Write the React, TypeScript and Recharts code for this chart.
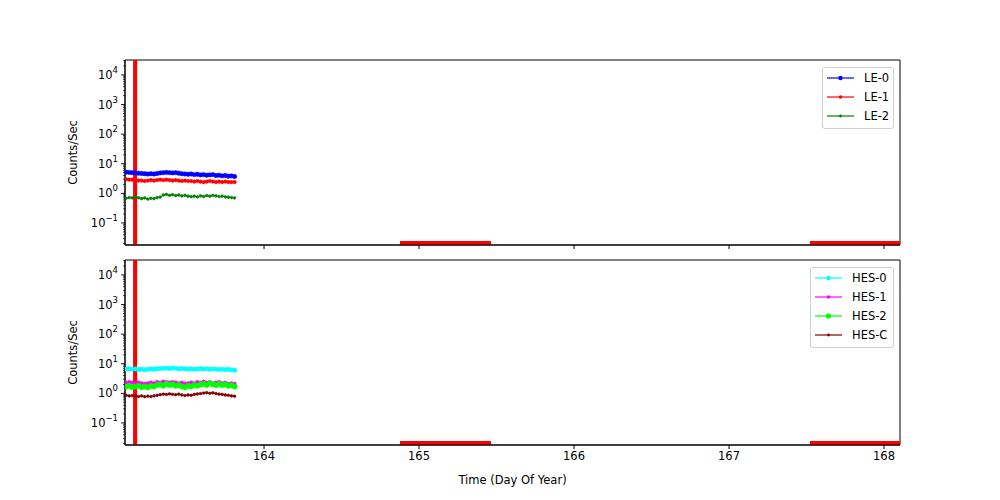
import {
  LineChart,
  Line,
  XAxis,
  YAxis,
  ReferenceLine,
  ReferenceArea,
} from "recharts";

const times = [
  163.11, 163.13, 163.15, 163.17, 163.19, 163.21, 163.23, 163.25, 163.27,
  163.29, 163.31, 163.33, 163.35, 163.37, 163.39, 163.41, 163.43, 163.45,
  163.47, 163.49, 163.51, 163.53, 163.55, 163.57, 163.59, 163.61, 163.63,
  163.65, 163.67, 163.69, 163.71, 163.73, 163.75, 163.77, 163.79, 163.81,
];

const le0 = [5.2, 5.1, 5.0, 4.9, 4.8, 4.7, 4.6, 4.5, 4.6, 4.5, 4.7, 4.9, 5.0, 5.1, 5.0, 4.9, 5.0, 4.8, 4.6, 4.5, 4.4, 4.5, 4.3, 4.4, 4.2, 4.3, 4.1, 4.2, 4.3, 4.0, 4.1, 3.9, 4.0, 3.8, 3.9, 3.7];
const le1 = [3.0, 2.9, 2.9, 2.8, 2.7, 2.7, 2.6, 2.7, 2.8, 2.7, 2.8, 2.9, 2.8, 2.9, 2.8, 2.7, 2.8, 2.7, 2.6, 2.7, 2.6, 2.6, 2.5, 2.6, 2.5, 2.4, 2.5, 2.6, 2.5, 2.4, 2.5, 2.4, 2.5, 2.4, 2.4, 2.4];
const le2 = [0.68, 0.72, 0.7, 0.74, 0.71, 0.66, 0.7, 0.64, 0.68, 0.66, 0.72, 0.75, 0.88, 0.92, 0.86, 0.9, 0.84, 0.88, 0.82, 0.86, 0.8, 0.77, 0.8, 0.76, 0.82, 0.78, 0.84, 0.8, 0.86, 0.82, 0.78, 0.8, 0.76, 0.74, 0.72, 0.7];

const hes0 = [6.6, 6.8, 6.5, 6.7, 6.4, 6.6, 6.3, 6.5, 6.7, 6.5, 6.8, 6.9, 7.0, 7.1, 6.9, 7.2, 7.0, 6.8, 6.9, 6.7, 6.6, 6.8, 6.5, 6.7, 6.9, 6.6, 6.8, 6.5, 6.7, 6.6, 6.4, 6.6, 6.3, 6.5, 6.2, 6.0];
const hes1 = [2.3, 2.4, 2.3, 2.2, 2.3, 2.2, 2.1, 2.2, 2.3, 2.2, 2.4, 2.3, 2.5, 2.4, 2.3, 2.4, 2.3, 2.2, 2.3, 2.1, 2.2, 2.3, 2.2, 2.4, 2.3, 2.5, 2.3, 2.4, 2.2, 2.3, 2.4, 2.2, 2.3, 2.1, 2.2, 2.1];
const hes2 = [1.7, 1.8, 1.6, 1.7, 1.8, 1.6, 1.7, 1.6, 1.8, 1.7, 1.9, 2.0, 1.8, 2.1, 1.9, 2.0, 1.8, 1.9, 1.7, 1.6, 1.8, 1.7, 1.9, 1.8, 2.0, 2.1, 1.9, 2.2, 2.0, 1.9, 2.1, 1.9, 2.0, 1.8, 1.9, 1.7];
const hesC = [0.86, 0.82, 0.84, 0.8, 0.78, 0.82, 0.77, 0.8, 0.78, 0.82, 0.86, 0.9, 0.94, 0.92, 0.96, 0.93, 0.9, 0.94, 0.88, 0.84, 0.88, 0.86, 0.92, 0.95, 0.98, 1.02, 1.05, 1.0, 1.04, 0.98, 0.94, 0.92, 0.88, 0.86, 0.82, 0.8];

const xTicks = [164, 165, 166, 167, 168];
const xDomain = [163.103, 168.103];
const yDomain = [0.018, 32000];
const majorY = [0.1, 1, 10, 100, 1000, 10000];
const minorY = [
  0.02, 0.03, 0.04, 0.05, 0.06, 0.07, 0.08, 0.09,
  0.2, 0.3, 0.4, 0.5, 0.6, 0.7, 0.8, 0.9,
  2, 3, 4, 5, 6, 7, 8, 9,
  20, 30, 40, 50, 60, 70, 80, 90,
  200, 300, 400, 500, 600, 700, 800, 900,
  2000, 3000, 4000, 5000, 6000, 7000, 8000, 9000,
  20000, 30000,
];
const markerDay = 163.168;
const gaps = [
  [164.877, 165.464],
  [167.522, 168.103],
];

const topSeries = [
  { key: "le0", name: "LE-0", color: "#0000ff", r: 2.2, values: le0 },
  { key: "le1", name: "LE-1", color: "#ff0000", r: 1.8, values: le1 },
  { key: "le2", name: "LE-2", color: "#008000", r: 1.4, values: le2 },
];
const bottomSeries = [
  { key: "hes0", name: "HES-0", color: "#00ffff", r: 2.2, values: hes0 },
  { key: "hes1", name: "HES-1", color: "#ff00ff", r: 1.8, values: hes1 },
  { key: "hes2", name: "HES-2", color: "#00ff00", r: 2.6, values: hes2 },
  { key: "hesc", name: "HES-C", color: "#800000", r: 1.4, values: hesC },
];

const font = "'DejaVu Sans', sans-serif";

function buildRows(series: typeof topSeries) {
  return times.map((t, i) => {
    const row: Record<string, number> = { t };
    series.forEach((s) => (row[s.key] = s.values[i]));
    return row;
  });
}

const expText: Record<number, string> = {
  0.1: "−1",
  1: "0",
  10: "1",
  100: "2",
  1000: "3",
  10000: "4",
};

function LogTick(props: any) {
  const { x, y, payload } = props;
  const v = payload.value;
  const major = majorY.includes(v);
  return (
    <g>
      <line x1={x} x2={x - (major ? 4 : 2)} y1={y} y2={y} stroke="#000" strokeWidth={major ? 0.9 : 0.7} />
      {major && (
        <text x={x - 7} y={y + 4} textAnchor="end" fontSize={11.5} fontFamily={font} fill="#000">
          10<tspan dy={-6} fontSize={8.5}>{expText[v]}</tspan>
        </text>
      )}
    </g>
  );
}

function NoLabel() {
  return <g />;
}

function Panel({ series, showX }: { series: typeof topSeries; showX: boolean }) {
  const rows = buildRows(series);
  return (
    <LineChart
      width={1000}
      height={showX ? 250 : 260}
      data={rows}
      margin={{ top: showX ? 10 : 60, right: 100, bottom: 0, left: 0 }}
      style={{ fontFamily: font }}
    >
      <XAxis
        dataKey="t"
        type="number"
        domain={xDomain}
        allowDataOverflow
        ticks={xTicks}
        interval={0}
        tick={showX ? { fill: "#000", fontSize: 11.5, fontFamily: font } : <NoLabel />}
        tickSize={4}
        tickMargin={3}
        stroke="#000"
        height={showX ? 55 : 15}
        label={
          showX
            ? { value: "Time (Day Of Year)", position: "insideBottom", offset: 16, fill: "#000", fontSize: 11.5, fontFamily: font }
            : undefined
        }
      />
      <YAxis
        scale="log"
        domain={yDomain}
        allowDataOverflow
        ticks={[...majorY, ...minorY]}
        interval={0}
        tick={<LogTick />}
        tickLine={false}
        tickSize={0}
        tickMargin={0}
        stroke="#000"
        width={125}
        label={{
          value: "Counts/Sec",
          angle: -90,
          position: "insideLeft",
          offset: 73,
          textAnchor: "middle",
          fill: "#000",
          fontSize: 11.5,
          fontFamily: font,
        }}
      />
      <ReferenceArea
        x1={xDomain[0]}
        x2={xDomain[1]}
        y1={yDomain[0]}
        y2={yDomain[1]}
        fill="none"
        stroke="#000"
        strokeWidth={1}
      />
      {gaps.map((g, i) => (
        <ReferenceArea
          key={i}
          x1={g[0]}
          x2={g[1]}
          y1={yDomain[0]}
          y2={0.0245}
          fill="#ff0000"
          fillOpacity={1}
          stroke="none"
        />
      ))}
      {series.map((s) => (
        <Line
          key={s.key}
          dataKey={s.key}
          stroke={s.color}
          strokeWidth={1}
          dot={{ r: s.r, fill: s.color, stroke: s.color, strokeWidth: 0.5 }}
          isAnimationActive={false}
        />
      ))}
      <ReferenceLine x={markerDay} stroke="#ff0000" strokeWidth={4} />
    </LineChart>
  );
}

function LegendBox({ series, left, top, width }: { series: typeof topSeries; left: number; top: number; width: number }) {
  return (
    <div
      style={{
        position: "absolute",
        left,
        top,
        width,
        border: "1px solid #d0d0d0",
        borderRadius: 3,
        background: "rgba(255,255,255,0.8)",
        padding: "0 0 3px 0",
        fontFamily: font,
        fontSize: 11.5,
        color: "#000",
      }}
    >
      {series.map((s) => (
        <div key={s.key} style={{ display: "flex", alignItems: "center", height: 19 }}>
          <svg width={38} height={10} style={{ marginLeft: 3 }}>
            <line x1={1} x2={28} y1={5} y2={5} stroke={s.color} strokeWidth={1.2} />
            <circle cx={14.5} cy={5} r={s.r} fill={s.color} />
          </svg>
          <span>{s.name}</span>
        </div>
      ))}
    </div>
  );
}

export default function App() {
  return (
    <div style={{ position: "absolute", left: 0, top: 0, width: 1000, height: 500, background: "#fff" }}>
      <div style={{ position: "absolute", left: 0, top: 0 }}>
        <Panel series={topSeries} showX={false} />
      </div>
      <div style={{ position: "absolute", left: 0, top: 250 }}>
        <Panel series={bottomSeries} showX={true} />
      </div>
      <LegendBox series={topSeries} left={822} top={67} width={70} />
      <LegendBox series={bottomSeries} left={810} top={267} width={82} />
    </div>
  );
}
